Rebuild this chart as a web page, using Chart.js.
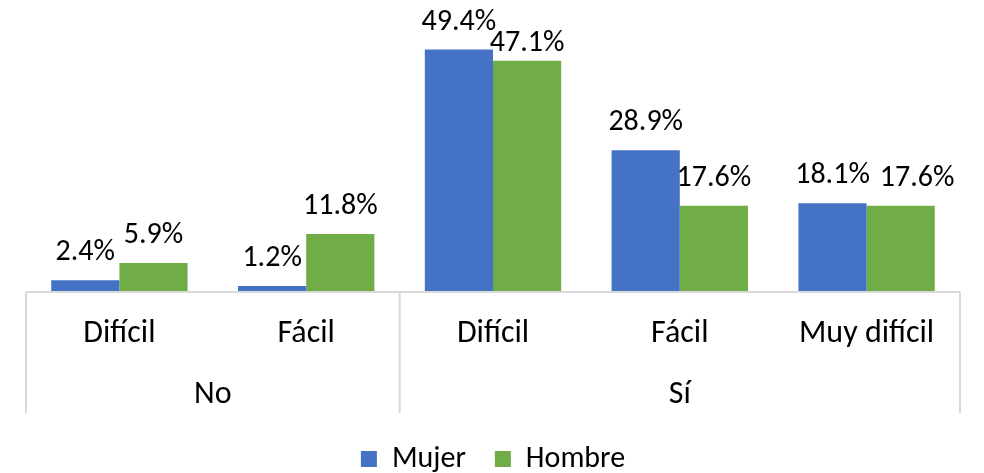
<!DOCTYPE html>
<html>
<head>
<meta charset="utf-8">
<script src="https://cdn.jsdelivr.net/npm/chart.js@4/dist/chart.umd.min.js"></script>
<style>
  html, body { margin: 0; padding: 0; background: #fff; }
  #wrap { width: 984px; height: 473px; }
</style>
</head>
<body>
<div id="wrap"><canvas id="chart"></canvas></div>
<script>
// data
const categories = ["Difícil", "Fácil", "Difícil", "Fácil", "Muy difícil"];
const groupOf = ["No", "No", "Sí", "Sí", "Sí"];
const mujer = [2.4, 1.2, 49.4, 28.9, 18.1];
const hombre = [5.9, 11.8, 47.1, 17.6, 17.6];

const FONT = "Calibri, Carlito, 'Liberation Sans', Arial, sans-serif";
const LINE = "#d9d9d9";

// draws the two level category axis and the value labels
const axisPlugin = {
        id: "axisPlugin",
        afterDraw(chart) {
                const ctx = chart.ctx;
                const area = chart.chartArea;
                const x = chart.scales.x;
                const half = (x.getPixelForValue(1) - x.getPixelForValue(0)) / 2;
                const axisBottom = 413;

                ctx.save();
                ctx.strokeStyle = LINE;
                ctx.lineWidth = 2;
                ctx.beginPath();
                ctx.moveTo(area.left, area.bottom);
                ctx.lineTo(area.right, area.bottom);
                ctx.stroke();

                // group separators
                const edges = [area.left];
                for (let i = 1; i < categories.length; i++) {
                        if (groupOf[i] !== groupOf[i - 1]) edges.push(x.getPixelForValue(i) - half);
                }
                edges.push(area.right);
                ctx.beginPath();
                edges.forEach(e => { ctx.moveTo(e, area.bottom); ctx.lineTo(e, axisBottom); });
                ctx.stroke();

                ctx.fillStyle = "#000";
                ctx.font = "32px " + FONT;
                ctx.textAlign = "center";
                ctx.textBaseline = "middle";
                categories.forEach((c, i) => ctx.fillText(c, x.getPixelForValue(i), 334));
                for (let g = 0; g < edges.length - 1; g++) {
                        const first = categories.findIndex((c, i) => x.getPixelForValue(i) > edges[g]);
                        ctx.fillText(groupOf[first], (edges[g] + edges[g + 1]) / 2, 395);
                }

                // value labels above the bars, nudged like excel does when they collide
                ctx.font = "30px " + FONT;
                ctx.textBaseline = "alphabetic";
                const boxes = [];
                chart.data.datasets.forEach((ds, di) => {
                        chart.getDatasetMeta(di).data.forEach((bar, i) => {
                                const txt = ds.data[i].toFixed(1) + "%";
                                const w = ctx.measureText(txt).width;
                                let cx = bar.x;
                                let base = bar.y - 20;
                                const other = boxes[i];
                                if (other && cx - w / 2 < other.right + 6 && base > other.base - 22 && base - 22 < other.base) {
                                        if (Math.abs(base - other.base) < 6) cx = other.right + 10 + w / 2;
                                        else base = bar.y - 10;
                                }
                                ctx.fillText(txt, cx, base);
                                if (di === 0) boxes[i] = { right: cx + w / 2, base: base };
                        });
                });
                ctx.restore();
        }
};

new Chart(document.getElementById("chart"), {
        type: "bar",
        data: {
                labels: categories,
                datasets: [
                        { label: "Mujer", data: mujer, backgroundColor: "#4472C4" },
                        { label: "Hombre", data: hombre, backgroundColor: "#70AD47" }
                ]
        },
        options: {
                responsive: true,
                maintainAspectRatio: false,
                animation: false,
                categoryPercentage: 0.73,
                barPercentage: 1.0,
                layout: { padding: { left: 26, right: 24, top: 0, bottom: -11 } },
                scales: {
                        x: {
                                grid: { display: false },
                                border: { display: false },
                                ticks: { display: false },
                                afterFit(scale) { scale.height = 123; }
                        },
                        y: { display: false, min: 0, max: 59.5 }
                },
                plugins: {
                        legend: {
                                position: "bottom",
                                labels: {
                                        boxWidth: 16,
                                        boxHeight: 16,
                                        padding: 29,
                                        color: "#000",
                                        font: { size: 30, family: FONT }
                                }
                        },
                        tooltip: { enabled: false }
                }
        },
        plugins: [axisPlugin]
});
</script>
</body>
</html>
